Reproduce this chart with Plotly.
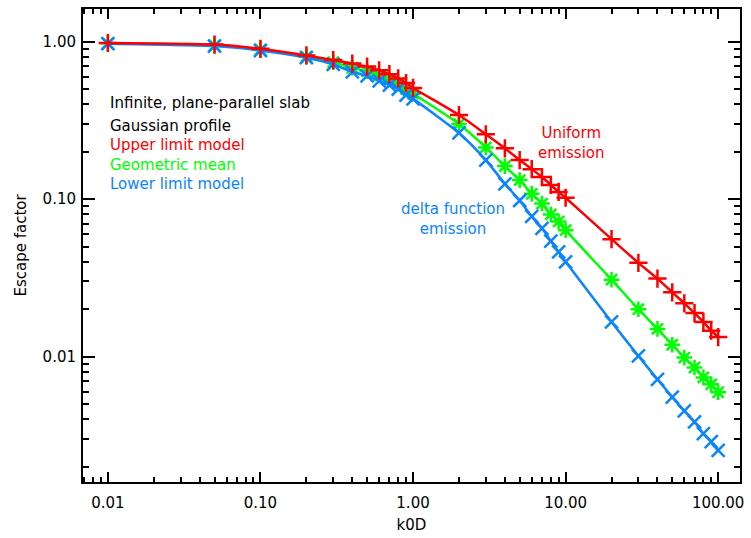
import plotly.graph_objects as go

k0d = [0.01, 0.05, 0.1, 0.2, 0.3, 0.4, 0.5, 0.6, 0.7, 0.8, 0.9, 1.0,
       2, 3, 4, 5, 6, 7, 8, 9, 10, 20, 30, 40, 50, 60, 70, 80, 90, 100]

upper = [0.980, 0.957, 0.900, 0.817, 0.763, 0.725, 0.694, 0.658, 0.621, 0.584, 0.546, 0.508,
         0.342, 0.258, 0.210, 0.177, 0.155, 0.138, 0.123, 0.111, 0.102,
         0.0557, 0.0394, 0.0313, 0.0256, 0.0218, 0.0189, 0.0166, 0.0146, 0.0133]

geomean = [0.975, 0.947, 0.889, 0.803, 0.740, 0.682, 0.648, 0.610, 0.574, 0.540, 0.500, 0.468,
           0.300, 0.213, 0.162, 0.132, 0.108, 0.0937, 0.080, 0.0722, 0.0635,
           0.0308, 0.0200, 0.0150, 0.0119, 0.00986, 0.00853, 0.00738, 0.00667, 0.00594]

lower = [0.970, 0.937, 0.878, 0.790, 0.718, 0.642, 0.606, 0.564, 0.530, 0.500, 0.458, 0.433,
         0.263, 0.177, 0.125, 0.098, 0.0777, 0.0653, 0.0542, 0.0462, 0.0400,
         0.0166, 0.0101, 0.00718, 0.00553, 0.00452, 0.00385, 0.00324, 0.00289, 0.00254]

x_ticks = [0.01, 0.1, 1, 10, 100]
x_ticklabels = ["0.01", "0.10", "1.00", "10.00", "100.00"]
y_ticks = [0.01, 0.1, 1]
y_ticklabels = ["0.01", "0.10", "1.00"]

RED = "#ff0000"
GREEN = "#00ff00"
BLUE = "#0a84ff"
FONT = "DejaVu Sans, Verdana, sans-serif"
FS = 15

fig = go.Figure()

series = [
    (geomean, GREEN, "asterisk-open"),
    (lower, BLUE, "x-thin-open"),
    (upper, RED, "cross-thin-open"),
]
for ys, col, sym in series:
    fig.add_trace(go.Scatter(
        x=k0d, y=ys, mode="lines+markers",
        line=dict(color=col, width=2.5, shape="spline", smoothing=0.6),
        marker=dict(symbol=sym, size=13, color=col,
                    line=dict(color=col, width=2.5)),
        showlegend=False,
    ))

minor_x = [m * 10 ** e for e in range(-3, 3) for m in range(2, 10)]
minor_y = [m * 10 ** e for e in range(-3, 1) for m in range(2, 10)]

fig.update_xaxes(
    type="log", range=[-2.163, 2.143],
    tickvals=x_ticks, ticktext=x_ticklabels,
    ticks="inside", ticklen=10, tickwidth=1.5, tickcolor="black",
    minor=dict(tickvals=minor_x, ticks="inside", ticklen=5, tickwidth=1.5,
               tickcolor="black", showgrid=False),
    showline=True, linecolor="black", linewidth=2, mirror="allticks",
    showgrid=False, zeroline=False,
    tickfont=dict(family=FONT, size=FS, color="black"),
    ticklabelstandoff=6,
    title=dict(text="k0D", font=dict(family=FONT, size=FS, color="black"), standoff=8),
)
fig.update_yaxes(
    type="log", range=[-2.796, 0.207],
    tickvals=y_ticks, ticktext=y_ticklabels,
    ticks="inside", ticklen=12, tickwidth=1.5, tickcolor="black",
    minor=dict(tickvals=minor_y, ticks="inside", ticklen=6, tickwidth=1.5,
               tickcolor="black", showgrid=False),
    showline=True, linecolor="black", linewidth=2, mirror="allticks",
    showgrid=False, zeroline=False,
    tickfont=dict(family=FONT, size=FS, color="black"),
    ticklabelstandoff=2,
    title=dict(text="Escape factor", font=dict(family=FONT, size=FS, color="black"), standoff=12),
)

T, B = 9.0, 488.0
XL = (108 - 83) / (744 - 83)

for txt, ypix in [("Infinite, plane-parallel slab", 104), ("Gaussian profile", 127)]:
    fig.add_annotation(
        text=txt, xref="paper", yref="paper",
        x=XL, y=(B - ypix) / (B - T),
        xanchor="left", yanchor="middle", showarrow=False,
        font=dict(family=FONT, size=FS, color="black"),
    )

model_lines = [("Upper limit model", RED), ("Geometric mean", GREEN), ("Lower limit model", BLUE)]
model_text = "<br>".join(f"<span style='color:{c}'>{t}</span>" for t, c in model_lines)
fig.add_annotation(
    text=model_text, xref="paper", yref="paper",
    x=XL, y=(B - 166) / (B - T),
    xanchor="left", yanchor="middle", align="left", showarrow=False,
    font=dict(family=FONT, size=FS, color="black"),
)

fig.add_annotation(text="Uniform<br>emission", xref="paper", yref="paper",
                   x=(574 - 83) / (744 - 83), y=(B - 145) / (B - T),
                   xanchor="center", yanchor="middle", showarrow=False,
                   font=dict(family=FONT, size=FS, color=RED))
fig.add_annotation(text="delta function<br>emission", xref="paper", yref="paper",
                   x=(455 - 83) / (744 - 83), y=(B - 222) / (B - T),
                   xanchor="center", yanchor="middle", showarrow=False,
                   font=dict(family=FONT, size=FS, color=BLUE))

fig.update_layout(
    width=751, height=538,
    margin=dict(l=83, r=7, t=9, b=50),
    paper_bgcolor="white", plot_bgcolor="white",
    font=dict(family=FONT, size=FS, color="black"),
)

fig.write_html("out.html")
